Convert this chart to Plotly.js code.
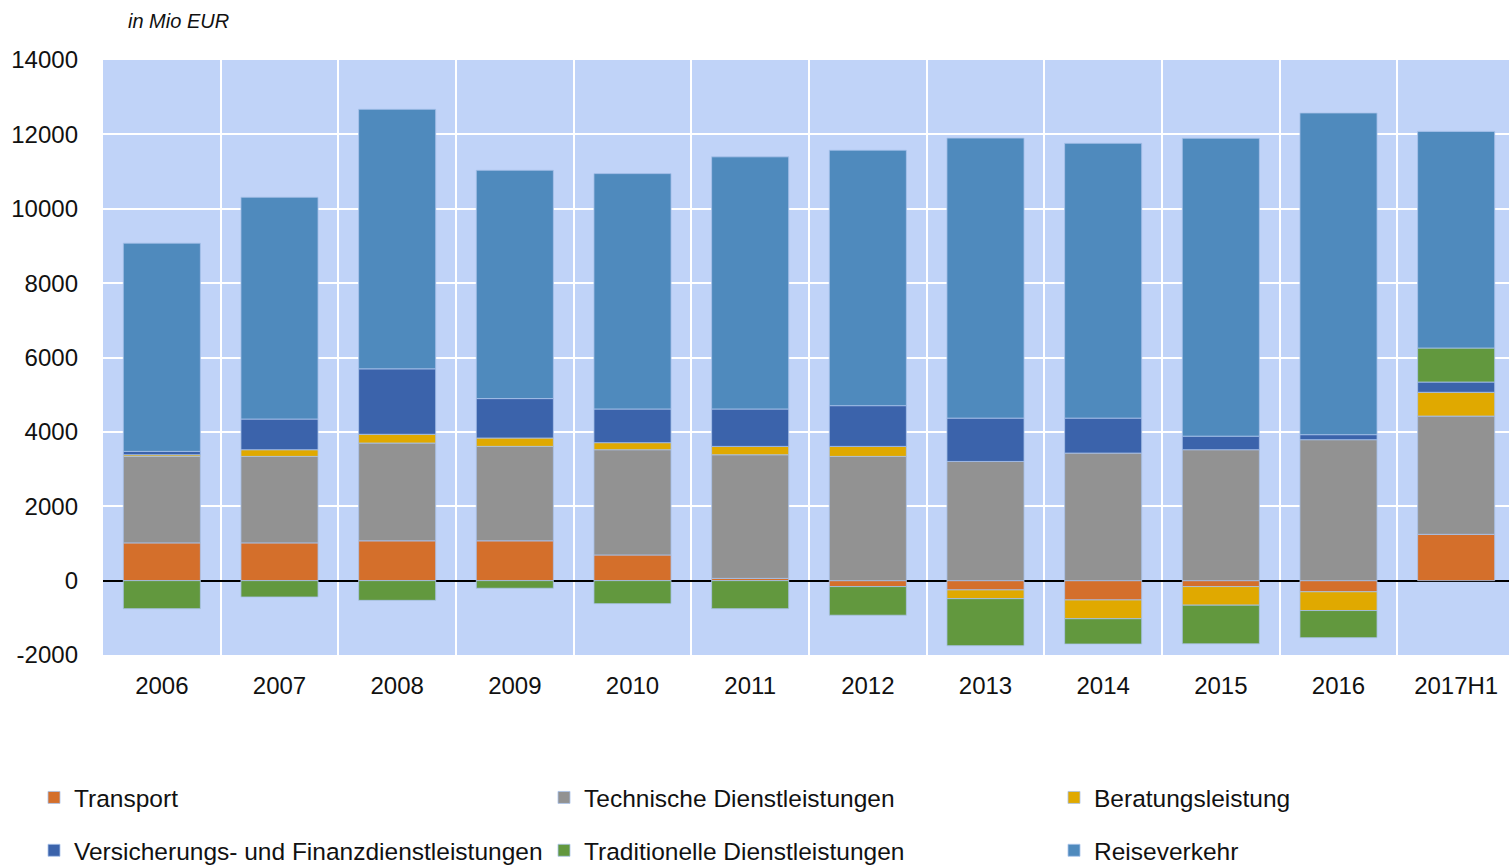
<!DOCTYPE html>
<html>
<head>
<meta charset="utf-8">
<script src="https://cdn.plot.ly/plotly-3.0.1.min.js"></script>
<style>
  html, body { margin: 0; padding: 0; background: #fff; overflow: hidden; }
  #chart { width: 1515px; height: 885px; }
</style>
</head>
<body>
<div id="chart"></div>
<script>
// Jahre / Kategorien
const years = ['2006', '2007', '2008', '2009', '2010', '2011', '2012', '2013', '2014', '2015', '2016', '2017H1'];

// Werte in Mio EUR
const transport     = [1015, 1015, 1070, 1070, 690, 60, -160, -250, -520, -160, -300, 1245];
const technische    = [2325, 2325, 2630, 2540, 2830, 3325, 3340, 3205, 3430, 3520, 3790, 3180];
const beratung      = [45, 180, 235, 225, 190, 225, 270, -235, -505, -500, -505, 640];
const versicherung  = [90, 825, 1760, 1060, 905, 1005, 1095, 1165, 940, 365, 135, 275];
const traditionelle = [-755, -440, -530, -205, -620, -755, -770, -1265, -680, -1040, -730, 915];
const reiseverkehr  = [5600, 5965, 6980, 6140, 6330, 6780, 6870, 7530, 7390, 8010, 8650, 5825];

const yTicks = [-2000, 0, 2000, 4000, 6000, 8000, 10000, 12000, 14000];

// the figure is a bit larger than the window, like the cropped original
const W = 1515, H = 885;
const M = { l: 103, r: 0, t: 60, b: H - 655 };
const plotW = W - M.l - M.r, plotH = H - M.t - M.b;

// legend: column (legend, legend2, legend3), row group for vertical spacing
function series(name, values, color, legend, row) {
  return {
    type: 'bar',
    name: name,
    x: years,
    y: values,
    legend: legend,
    legendgroup: row,
    marker: { color: color, line: { color: 'rgba(170,195,235,0.8)', width: 1 } },
    hoverinfo: 'x+y+name'
  };
}

const data = [
  series('Transport', transport, '#d46f2b', 'legend', 'r1'),
  series('Technische Dienstleistungen', technische, '#929292', 'legend2', 'r1'),
  series('Beratungsleistung', beratung, '#e0a900', 'legend3', 'r1'),
  series('Versicherungs- und Finanzdienstleistungen', versicherung, '#3b63ab', 'legend', 'r2'),
  series('Traditionelle Dienstleistungen', traditionelle, '#62983e', 'legend2', 'r2'),
  series('Reiseverkehr', reiseverkehr, '#4f8abd', 'legend3', 'r2')
];

const legendFont = { family: 'Liberation Sans, Arial, sans-serif', size: 24.5, color: '#111' };

function legendCol(leftPx) {
  return {
    orientation: 'v',
    x: (leftPx - M.l) / plotW, xanchor: 'left',
    y: (655 - 775) / plotH, yanchor: 'top',
    traceorder: 'grouped',
    tracegroupgap: 18,
    font: legendFont,
    bgcolor: 'rgba(0,0,0,0)'
  };
}

const layout = {
  width: W,
  height: H,
  margin: M,
  paper_bgcolor: '#ffffff',
  plot_bgcolor: '#c0d3f8',
  barmode: 'relative',
  bargap: 0.345,
  font: { family: 'Liberation Sans, Arial, sans-serif', size: 24, color: '#111' },
  xaxis: {
    type: 'category',
    showgrid: true,
    tickson: 'boundaries',
    gridcolor: '#ffffff',
    gridwidth: 2,
    ticks: '',
    ticklabelstandoff: 14,
    tickfont: { size: 24 },
    showline: false
  },
  yaxis: {
    range: [-2000, 14000],
    tickvals: yTicks,
    ticktext: yTicks.map(String),
    gridcolor: '#ffffff',
    gridwidth: 2,
    zeroline: true,
    zerolinecolor: '#000000',
    zerolinewidth: 2,
    ticks: '',
    ticklabelstandoff: 24,
    tickfont: { size: 24 },
    showline: false
  },
  legend: legendCol(34),
  legend2: legendCol(544),
  legend3: legendCol(1054),
  annotations: [{
    text: '<i>in Mio EUR</i>',
    xref: 'paper', yref: 'paper',
    x: (126 - M.l) / plotW, y: 1,
    xanchor: 'left', yanchor: 'bottom',
    yshift: 26,
    showarrow: false,
    font: { size: 20, color: '#111' }
  }]
};

Plotly.newPlot('chart', data, layout, { displayModeBar: false, staticPlot: true });
</script>
</body>
</html>
